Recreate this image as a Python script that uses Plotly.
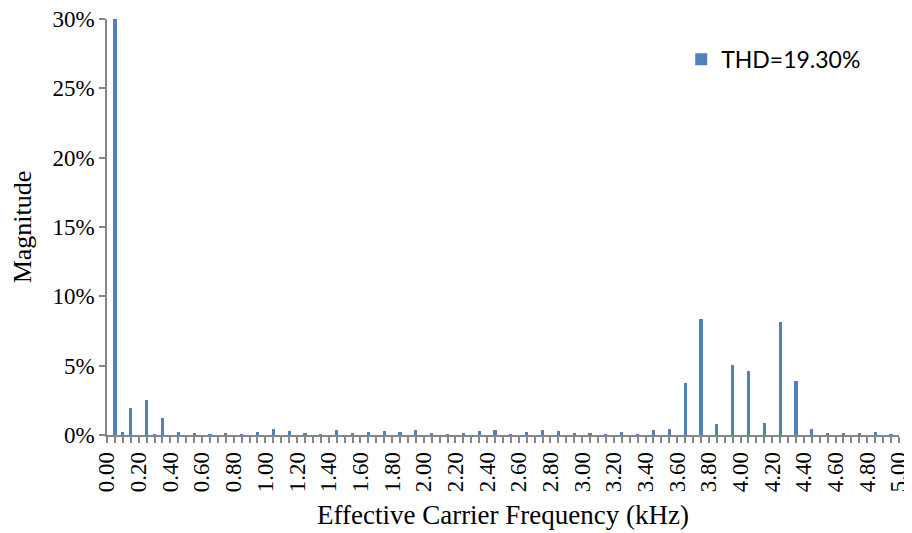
import plotly.graph_objects as go

# Harmonic frequencies (kHz), category step 0.05 kHz
freqs = [0.00, 0.05, 0.10, 0.15, 0.20, 0.25, 0.30, 0.35, 0.40, 0.45,
         0.50, 0.55, 0.60, 0.65, 0.70, 0.75, 0.80, 0.85, 0.90, 0.95,
         1.00, 1.05, 1.10, 1.15, 1.20, 1.25, 1.30, 1.35, 1.40, 1.45,
         1.50, 1.55, 1.60, 1.65, 1.70, 1.75, 1.80, 1.85, 1.90, 1.95,
         2.00, 2.05, 2.10, 2.15, 2.20, 2.25, 2.30, 2.35, 2.40, 2.45,
         2.50, 2.55, 2.60, 2.65, 2.70, 2.75, 2.80, 2.85, 2.90, 2.95,
         3.00, 3.05, 3.10, 3.15, 3.20, 3.25, 3.30, 3.35, 3.40, 3.45,
         3.50, 3.55, 3.60, 3.65, 3.70, 3.75, 3.80, 3.85, 3.90, 3.95,
         4.00, 4.05, 4.10, 4.15, 4.20, 4.25, 4.30, 4.35, 4.40, 4.45,
         4.50, 4.55, 4.60, 4.65, 4.70, 4.75, 4.80, 4.85, 4.90, 4.95,
         5.00]

# Magnitude (% of fundamental)
magnitude = [0.00, 100.0, 0.24, 1.96, 0.00, 2.54, 0.03, 1.20, 0.00, 0.24,
             0.00, 0.12, 0.00, 0.05, 0.00, 0.12, 0.00, 0.05, 0.00, 0.19,
             0.00, 0.40, 0.00, 0.26, 0.00, 0.12, 0.00, 0.07, 0.00, 0.33,
             0.00, 0.14, 0.00, 0.22, 0.00, 0.29, 0.00, 0.22, 0.00, 0.38,
             0.00, 0.14, 0.00, 0.07, 0.00, 0.14, 0.00, 0.29, 0.00, 0.33,
             0.00, 0.07, 0.00, 0.19, 0.00, 0.36, 0.00, 0.29, 0.00, 0.12,
             0.00, 0.12, 0.00, 0.05, 0.00, 0.19, 0.00, 0.07, 0.00, 0.33,
             0.00, 0.45, 0.00, 3.73, 0.00, 8.33, 0.00, 0.79, 0.00, 5.07,
             0.00, 4.62, 0.00, 0.84, 0.00, 8.16, 0.00, 3.92, 0.00, 0.46,
             0.00, 0.10, 0.00, 0.14, 0.00, 0.10, 0.00, 0.22, 0.00, 0.05,
             0.00]

series_name = "THD=19.30%"
y_ticks = [0, 5, 10, 15, 20, 25, 30]
y_labels = ["0%", "5%", "10%", "15%", "20%", "25%", "30%"]
x_ticks = [0.0, 0.2, 0.4, 0.6, 0.8, 1.0, 1.2, 1.4, 1.6, 1.8, 2.0, 2.2, 2.4,
           2.6, 2.8, 3.0, 3.2, 3.4, 3.6, 3.8, 4.0, 4.2, 4.4, 4.6, 4.8, 5.0]
x_labels = ["0.00", "0.20", "0.40", "0.60", "0.80", "1.00", "1.20", "1.40",
            "1.60", "1.80", "2.00", "2.20", "2.40", "2.60", "2.80", "3.00",
            "3.20", "3.40", "3.60", "3.80", "4.00", "4.20", "4.40", "4.60",
            "4.80", "5.00"]

axis_gray = "#868686"
serif = "Liberation Serif, Times New Roman, serif"

fig = go.Figure()
fig.add_trace(go.Bar(
    x=freqs, y=magnitude, name=series_name, width=0.02,
    marker=dict(color="#4F81BD", line=dict(width=0)),
    showlegend=True,
))

# page body has an 8px margin, so the figure is sized 8px smaller
fig.update_layout(
    width=904, height=525,
    margin=dict(l=99, r=13, t=11, b=98),
    paper_bgcolor="white", plot_bgcolor="white",
    bargap=0,
    showlegend=True,
    legend=dict(
        x=0.725, y=0.955, xanchor="left", yanchor="top",
        bgcolor="rgba(0,0,0,0)",
        font=dict(family="Lato, Liberation Sans, sans-serif", size=23, color="black"),
        itemwidth=30,
    ),
    xaxis=dict(
        range=[0, 5.0005], tickmode="array", tickvals=x_ticks, ticktext=x_labels,
        tickangle=-90, automargin=False, ticklabeloverflow="allow",
        ticks="outside", ticklen=6, tickcolor=axis_gray, tickwidth=1.5,
        minor=dict(dtick=0.05, tick0=0, ticks="outside", ticklen=6,
                   tickcolor=axis_gray, tickwidth=1.5, showgrid=False),
        showline=True, linecolor=axis_gray, linewidth=1.5,
        showgrid=False, zeroline=False,
        tickfont=dict(family=serif, size=23, color="black"),
        title=dict(text="Effective Carrier Frequency (kHz)",
                   font=dict(family=serif, size=27, color="black"), standoff=14),
    ),
    yaxis=dict(
        range=[0, 30], tickmode="array", tickvals=y_ticks, ticktext=y_labels,
        automargin=False, ticklabeloverflow="allow",
        ticks="outside", ticklen=6, tickcolor=axis_gray, tickwidth=1.5,
        showline=True, linecolor=axis_gray, linewidth=1.5,
        showgrid=False, zeroline=False,
        tickfont=dict(family=serif, size=23, color="black"),
        title=dict(text="Magnitude", font=dict(family=serif, size=26, color="black"),
                   standoff=16),
    ),
)

fig.write_html("out.html")
